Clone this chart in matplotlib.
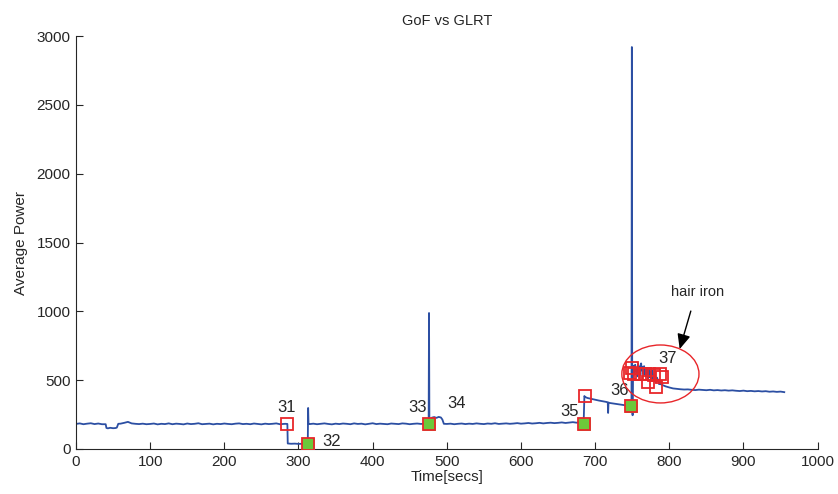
import matplotlib
matplotlib.use("Agg")
import matplotlib.pyplot as plt
from matplotlib.patches import Ellipse

plt.rcParams['font.family'] = ['Liberation Sans', 'DejaVu Sans']

# ---- data ----
seg1_t = [0, 5, 10, 15, 20, 25, 30, 35]
seg1_v = [182, 186, 180, 184, 187, 181, 185, 180]
seg2_t = [40, 41, 43, 46, 50, 53, 55, 57]
seg2_v = [180, 153, 150, 154, 151, 152, 155, 183]
seg3_t = list(range(60, 281, 5))
seg3_v = [184, 190, 197, 186, 183, 181, 184, 180, 182, 185,
          179, 183, 181, 186, 180, 184, 182, 179, 185, 181,
          183, 187, 180, 182, 184, 179, 183, 181, 185, 182,
          180, 184, 186, 181, 183, 180, 185, 182, 179, 184,
          181, 183, 186, 180, 182]
seg4_t = [282, 285, 285.5, 290, 295, 300, 305, 310, 312.5, 313, 313.5]
seg4_v = [183, 182, 40, 38, 39, 37, 38, 37, 36, 298, 182]
seg5_t = list(range(315, 471, 5))
seg5_v = [181, 184, 180, 183, 186, 182, 179, 184, 181, 185,
          183, 180, 186, 182, 184, 179, 183, 187, 181, 184,
          182, 180, 185, 183, 181, 186, 184, 180, 183, 185,
          182, 184]
seg6_t = [474, 475.5, 476, 476.5, 478, 480, 483, 486, 489, 492, 494, 496]
seg6_v = [183, 182, 988, 185, 212, 228, 232, 226, 233, 229, 214, 183]
seg7_t = list(range(500, 681, 5))
seg7_v = [182, 184, 180, 183, 185, 181, 184, 182, 186, 183,
          181, 185, 183, 187, 182, 184, 186, 183, 185, 188,
          184, 186, 189, 185, 187, 190, 186, 189, 191, 188,
          190, 193, 189, 192, 195, 191, 194]
seg8_t = [684.5, 685.5, 686, 688, 690, 695, 700, 705, 710, 715, 717, 717.5,
          718, 720, 725, 730, 735, 740, 745, 748, 749, 749.5, 750, 750.5]
seg8_v = [192, 385, 380, 374, 370, 364, 358, 352, 347, 342, 339, 262,
          337, 334, 330, 326, 322, 318, 315, 312, 312, 2920, 300, 245]
seg9_t = list(range(751, 791))
seg9_v = [560, 605, 540, 612, 565, 590, 528, 618, 560, 600,
          538, 622, 570, 595, 545, 602, 540, 590, 530, 578,
          510, 582, 540, 520, 565, 505, 572, 545, 492, 535,
          515, 482, 520, 498, 505, 472, 488, 470, 478, 466]
seg10_t = list(range(795, 956, 5))
seg10_v = [455, 447, 440, 437, 434, 432, 433, 430, 428, 431,
           429, 427, 430, 426, 428, 425, 427, 424, 426, 423,
           421, 424, 420, 422, 419, 421, 418, 420, 416, 418,
           415, 417, 413]

time_s = seg1_t + seg2_t + seg3_t + seg4_t + seg5_t + seg6_t + seg7_t + seg8_t + seg9_t + seg10_t
power = seg1_v + seg2_v + seg3_v + seg4_v + seg5_v + seg6_v + seg7_v + seg8_v + seg9_v + seg10_v

glrt_t = [284, 312.5, 476, 685, 686.5, 749, 750, 747, 753, 760, 767, 773, 780, 787, 790, 771, 782]
glrt_v = [182, 36, 182, 182, 385, 312, 586, 552, 543, 543, 543, 543, 537, 543, 525, 489, 452]
gof_t = [312.5, 476, 685, 749]
gof_v = [36, 182, 182, 312]

labels = ['31', '32', '33', '34', '35', '36', '37']
label_t = [284, 345, 460, 513, 666, 733, 798]
label_v = [298, 58, 298, 327, 276, 428, 661]

# ---- figure ----
fig = plt.figure(figsize=(8.38, 4.94), dpi=100)
ax = fig.add_axes([0.0907, 0.0911, 0.885, 0.836])

line_color = '#2c4fa3'
red = '#e8262a'
green = '#6cc83a'
txt = '#262626'

ax.plot(time_s, power, color=line_color, lw=1.3, zorder=2)
ax.plot(gof_t, gof_v, linestyle='none', marker='s', markersize=8,
        markerfacecolor=green, markeredgecolor=green, markeredgewidth=0.5, zorder=3)
ax.plot(glrt_t, glrt_v, linestyle='none', marker='s', markersize=8,
        markerfacecolor='none', markeredgecolor=red, markeredgewidth=1.3, zorder=4)

for s, x, y in zip(labels, label_t, label_v):
    ax.text(x, y, s, fontsize=12, color=txt, ha='center', va='center', zorder=5)

ax.add_patch(Ellipse((788, 545), 104, 421, fill=False, edgecolor=red, lw=1.0, zorder=5))
ax.annotate('', xy=(814, 726), xytext=(829, 1002),
            arrowprops=dict(arrowstyle='-|>,head_length=0.9,head_width=0.4',
                            color='black', lw=1.0, shrinkA=0, shrinkB=0))
ax.text(838, 1140, 'hair iron', fontsize=10.5, color=txt, ha='center', va='center')

ax.set_xlim(0, 1000)
ax.set_ylim(0, 3000)
ax.set_xticks(range(0, 1001, 100))
ax.set_yticks(range(0, 3001, 500))
ax.tick_params(direction='in', length=5, width=0.8, labelsize=11, colors='#262626', pad=4)
for sp in ['top', 'right']:
    ax.spines[sp].set_visible(False)
for sp in ['left', 'bottom']:
    ax.spines[sp].set_color('#262626')
    ax.spines[sp].set_linewidth(0.8)

ax.set_xlabel('Time[secs]', fontsize=11, color=txt, labelpad=1)
ax.set_ylabel('Average Power', fontsize=11, color=txt, labelpad=6)
ax.set_title('GoF vs GLRT', fontsize=10.5, color=txt, pad=8)

fig.savefig('out.png', dpi=100)
